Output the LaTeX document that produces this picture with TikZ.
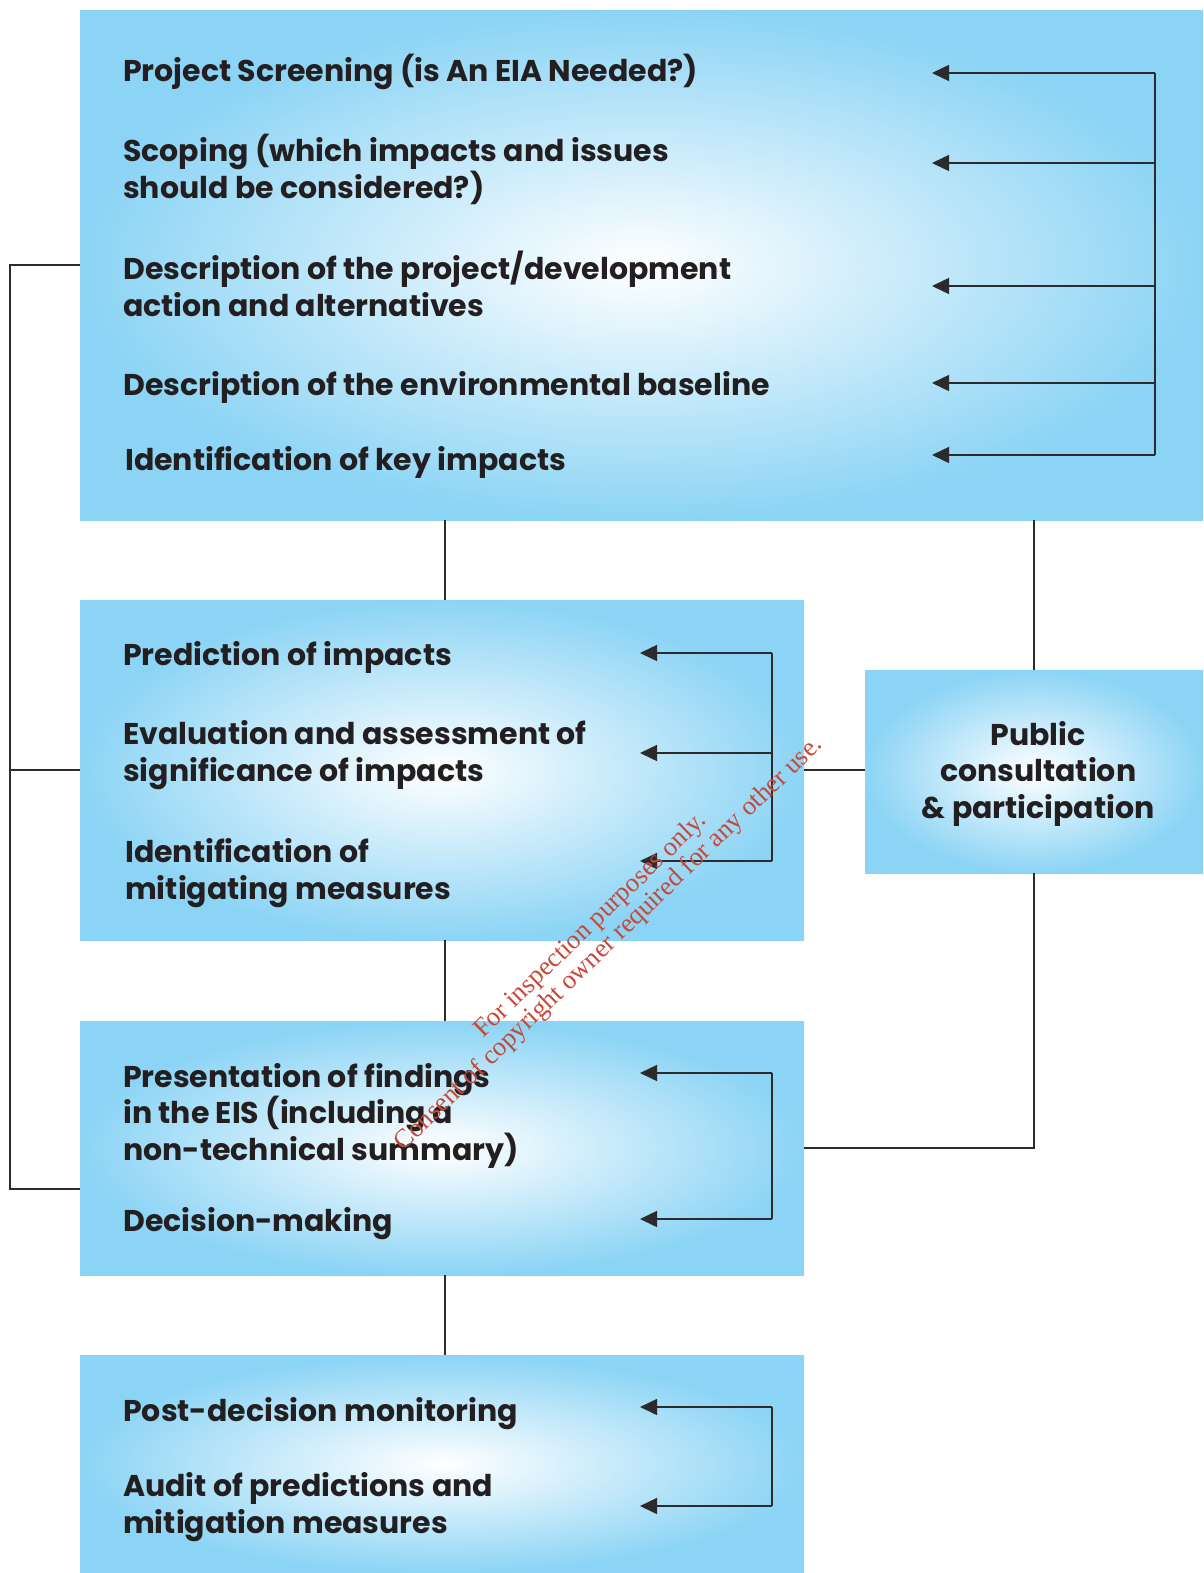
\documentclass[tikz,border=0pt]{standalone}
\usepackage{fontspec}
\setmainfont{Poppins}
\newfontfamily\wmfont{Liberation Serif}
\usetikzlibrary{arrows.meta,calc}
\definecolor{eiablue}{RGB}{140,212,245}
\definecolor{linegray}{RGB}{45,42,43}
\definecolor{inkblack}{RGB}{35,31,32}
\definecolor{wmred}{RGB}{200,72,56}

\begin{document}
\begin{tikzpicture}[x=1pt,y=-1pt]
    \tikzset{
        stage/.style = {
            anchor = north west,
            inner sep = 0pt,
            shading = radial,
            inner color = white,
            outer color = eiablue
        },
        steptext/.style = {
            anchor = base west,
            align = left,
            inner sep = 0pt,
            text = inkblack,
            font = \bfseries\fontsize{30}{36.5}\selectfont
        },
        link/.style = {
            draw = linegray,
            line width = 1.5pt
        },
        feed/.style = {
            link,
            -{Triangle[length=17pt,width=16pt]}
        }
    }

    \useasboundingbox (0,0) rectangle (1203,1573);

    % stages
    \node[stage, minimum width=1123pt, minimum height=510pt] (screen) at (80,10) {};
    \node[stage, minimum width=724pt, minimum height=340pt] (predict) at (80,600) {};
    \node[stage, minimum width=724pt, minimum height=254pt] (decide) at (80,1021) {};
    \node[stage, minimum width=724pt, minimum height=218pt] (monitor) at (80,1355) {};
    \node[stage, minimum width=338pt, minimum height=203pt] (public) at (865,670) {};

    % texts (base = last line)
    \node[steptext] (t1) at (123,82) {Project Screening (is An EIA Needed?)};
    \node[steptext] (t2) at (123,198) {Scoping (which impacts and issues\\should be considered?)};
    \node[steptext] (t3) at (123,316) {Description of the project/development\\action and alternatives};
    \node[steptext] (t4) at (123,395) {Description of the environmental baseline};
    \node[steptext] (t5) at (125,470) {Identification of key impacts};

    \node[steptext] (t6) at (123,665) {Prediction of impacts};
    \node[steptext] (t7) at (123,781) {Evaluation and assessment of\\significance of impacts};
    \node[steptext] (t8) at (125,899) {Identification of\\mitigating measures};

    \node[steptext] (t9) at (123,1160) {Presentation of findings\\in the EIS (including a\\non-technical summary)};
    \node[steptext] (t10) at (123,1231) {Decision-making};

    \node[steptext] (t11) at (123,1421) {Post-decision monitoring};
    \node[steptext] (t12) at (123,1533) {Audit of predictions and\\mitigation measures};

    \node[steptext, anchor=center, align=center] (tp) at ([shift={(4,2)}]public.center)
        {Public\\consultation\\\& participation};

    % main flow
    \coordinate (spine) at (445,0);
    \coordinate (lft) at (10,0);
    \coordinate (lowjoin) at (80,1189);
    \draw[link] (screen.south -| spine) -- (predict.north -| spine);
    \draw[link] (predict.south -| spine) -- (decide.north -| spine);
    \draw[link] (decide.south -| spine) -- (monitor.north -| spine);
    \draw[link] (screen.west) -- (screen.west -| lft) -- (lowjoin -| lft) -- (lowjoin);
    \draw[link] (predict.west) -- (predict.west -| lft);

    % public consultation
    \draw[link] (screen.south -| public.north) -- (public.north);
    \draw[link] (predict.east) -- (predict.east -| public.west);
    \draw[link] (public.south) -- (public.south |- decide.east) -- (decide.east);

    % feedback arrows
    \foreach \y [count=\i] in {73, 163, 286, 383, 455}{
        \coordinate (sa\i) at (1155,\y);
        \coordinate (sb\i) at (932,\y);
        \draw[feed] (sa\i) -- (sb\i);
    }
    \draw[link] (sa1) -- (sa5);

    \foreach \y [count=\i] in {653, 753, 861}{
        \coordinate (pa\i) at (772,\y);
        \coordinate (pb\i) at (640,\y);
        \draw[feed] (pa\i) -- (pb\i);
    }
    \draw[link] (pa1) -- (pa3);

    \foreach \y [count=\i] in {1073, 1219}{
        \coordinate (da\i) at (772,\y);
        \coordinate (db\i) at (640,\y);
        \draw[feed] (da\i) -- (db\i);
    }
    \draw[link] (da1) -- (da2);

    \foreach \y [count=\i] in {1407, 1506}{
        \coordinate (ma\i) at (772,\y);
        \coordinate (mb\i) at (640,\y);
        \draw[feed] (ma\i) -- (mb\i);
    }
    \draw[link] (ma1) -- (ma2);

    % watermark
    \node[text=wmred, align=center, rotate=44, inner sep=0pt,
          font=\wmfont\fontsize{26.5}{26}\selectfont] (wm) at (600,935)
        {For inspection purposes only.\\Consent of copyright owner required for any other use.};

\end{tikzpicture}
\end{document}
